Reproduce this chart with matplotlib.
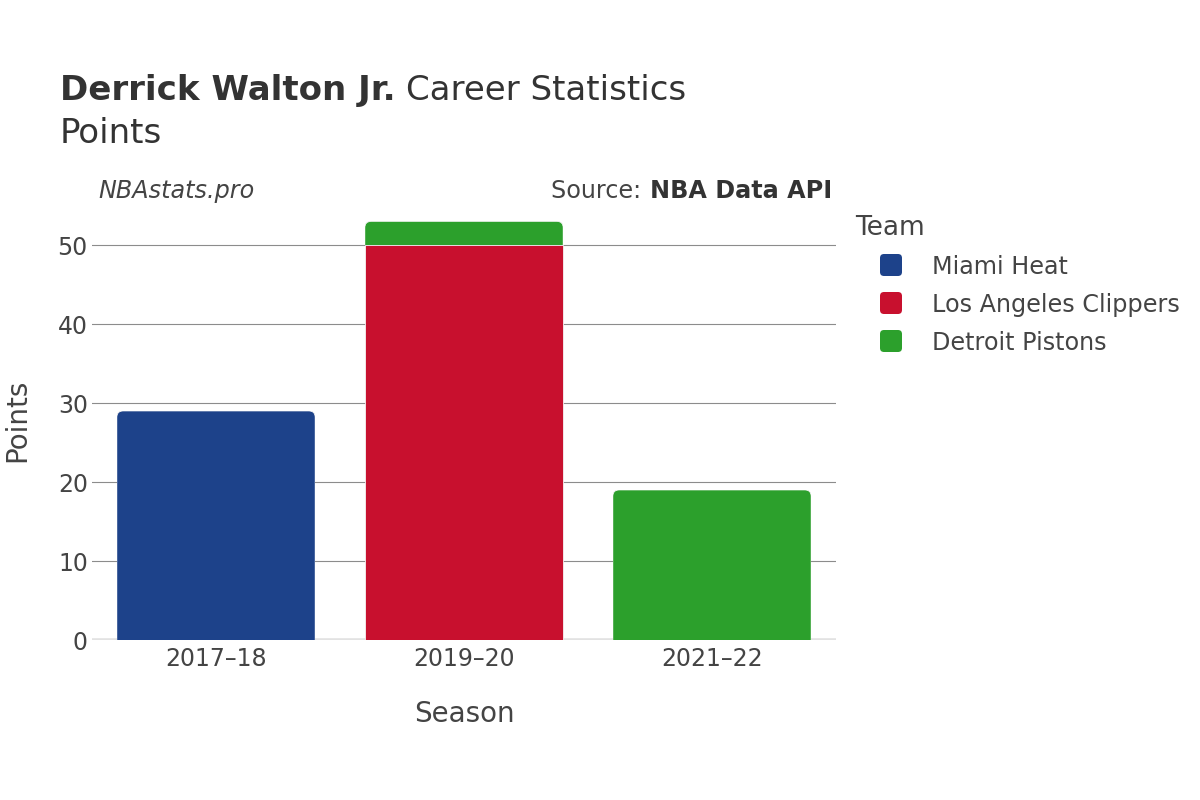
import matplotlib
matplotlib.use("Agg")
import matplotlib.pyplot as plt
from matplotlib.patches import FancyBboxPatch
import numpy as np

# ---- data ----
seasons = ["2017–18", "2019–20", "2021–22"]
teams = ["Miami Heat", "Los Angeles Clippers", "Detroit Pistons"]
team_colors = ["#1d428a", "#c8102e", "#2ca02c"]
miami_heat = [29, 0, 0]
la_clippers = [0, 50, 0]
detroit_pistons = [0, 3, 19]
yticks = [0, 10, 20, 30, 40, 50]

series = [miami_heat, la_clippers, detroit_pistons]

W, H = 1200, 800
fig = plt.figure(figsize=(W / 100, H / 100), dpi=100)
fig.patch.set_facecolor("white")

def fx(px):
    return px / W

def fy(py):
    return 1 - py / H

ax = fig.add_axes([fx(92), fy(640), fx(836) - fx(92), fy(200) - fy(640)])
ax.set_xlim(-0.5, 2.5)
ax.set_ylim(0, 55.7)
for s in ax.spines.values():
    s.set_visible(False)

TXT = "#444444"

# gridlines
for t in yticks[1:]:
    ax.axhline(t, color="#8c8c8c", lw=0.8, zorder=1)
ax.axhline(0, color="#e2e2e2", lw=2.6, zorder=1)

# bars
fig.canvas.draw()
px_per_x = ax.transData.transform((1, 0))[0] - ax.transData.transform((0, 0))[0]
px_per_y = ax.transData.transform((0, 1))[1] - ax.transData.transform((0, 0))[1]
radius_px = 6.5
bar_w = 0.80
aspect = px_per_x / px_per_y
rx = radius_px / px_per_x

x = np.arange(len(seasons))
bottoms = np.zeros(len(seasons))
totals = np.sum(np.array(series), axis=0)
for vals, col in zip(series, team_colors):
    vals = np.array(vals, dtype=float)
    for i in range(len(seasons)):
        if vals[i] <= 0:
            continue
        rects = ax.bar(x[i], vals[i], bottom=bottoms[i], width=bar_w, color=col,
                       edgecolor="#f4f4f4", linewidth=0.6, zorder=2)
        if np.isclose(bottoms[i] + vals[i], totals[i]):
            r = rects[0]
            r.set_visible(False)
            x0, y0 = r.get_x(), r.get_y()
            w, h = r.get_width(), r.get_height()
            rounded = FancyBboxPatch((x0, y0 - 3), w, h + 3,
                                     boxstyle=f"round,pad=0,rounding_size={rx}",
                                     mutation_aspect=aspect,
                                     facecolor=col, edgecolor="#f4f4f4",
                                     linewidth=0.6, zorder=2)
            ax.add_patch(rounded)
            rounded.set_clip_path(r)
    bottoms += vals

ax.set_xticks(x)
ax.set_xticklabels(seasons, fontsize=17, color=TXT)
ax.set_yticks(yticks)
ax.set_yticklabels([str(t) for t in yticks], fontsize=17, color=TXT)
ax.tick_params(axis="both", length=0)
ax.tick_params(axis="x", pad=5)
ax.tick_params(axis="y", pad=3)

ax.set_xlabel("Season", fontsize=20, color=TXT, labelpad=21)
fig.text(fx(17), fy(420), "Points", rotation=90, fontsize=20, color=TXT,
         ha="center", va="center")

# titles
renderer = fig.canvas.get_renderer()
t1 = fig.text(fx(60), fy(100), "Derrick Walton Jr.", fontsize=24.5, fontweight="bold",
              color="#333333", ha="left", va="baseline")
bb = t1.get_window_extent(renderer)
fig.text(bb.x1 / W + fx(10), fy(100), "Career Statistics", fontsize=24.5,
         color="#333333", ha="left", va="baseline")
fig.text(fx(60), fy(143), "Points", fontsize=24.5, color="#333333",
         ha="left", va="baseline")

fig.text(fx(98), fy(198), "NBAstats.pro", fontsize=17.2, style="italic",
         color=TXT, ha="left", va="baseline")
s2 = fig.text(fx(832), fy(198), "NBA Data API", fontsize=17.2, fontweight="bold",
              color="#333333", ha="right", va="baseline")
bb2 = s2.get_window_extent(renderer)
fig.text(bb2.x0 / W - fx(1), fy(198), "Source: ", fontsize=17.2, color=TXT,
         ha="right", va="baseline")

# legend
fig.text(fx(855), fy(235), "Team", fontsize=19, color=TXT, ha="left", va="baseline")
for k, (name, col) in enumerate(zip(teams, team_colors)):
    cy = 265 + 38 * k
    sq = FancyBboxPatch((fx(880), fy(cy + 11)), fx(22), fy(cy - 11) - fy(cy + 11),
                        boxstyle=f"round,pad=0,rounding_size={fx(4)}",
                        mutation_aspect=W / H,
                        transform=fig.transFigure, facecolor=col, edgecolor="none")
    fig.patches.append(sq)
    fig.text(fx(932), fy(cy + 9), name, fontsize=17.2, color=TXT,
             ha="left", va="baseline")

fig.savefig("out.png", dpi=100, facecolor="white")
